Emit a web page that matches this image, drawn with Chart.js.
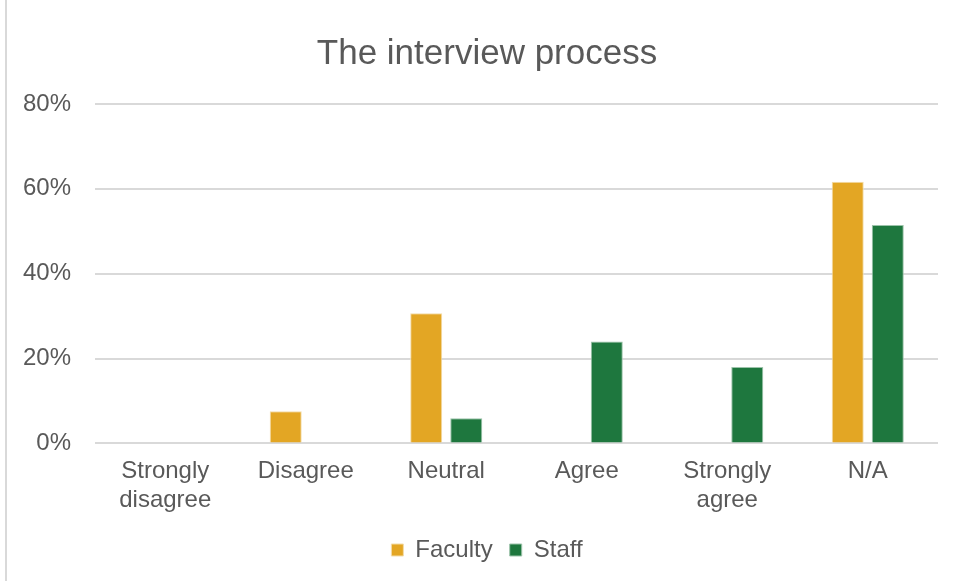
<!DOCTYPE html>
<html>
<head>
<meta charset="utf-8">
<script src="https://cdn.jsdelivr.net/npm/chart.js@4/dist/chart.umd.min.js"></script>
<style>
  html, body { margin: 0; padding: 0; background: #fff; overflow: hidden; }
  #wrap { position: absolute; left: 5px; top: 0; width: 962px; height: 581px; border-left: 2px solid #d9d9d9; box-sizing: border-box; }
  canvas { display: block; }
</style>
</head>
<body>
<div id="wrap"><canvas id="canvas"></canvas></div>
<script>
// chart data
var categories = [['Strongly', 'disagree'], 'Disagree', 'Neutral', 'Agree', ['Strongly', 'agree'], 'N/A'];
var faculty = [0, 0.076, 0.307, 0, 0, 0.617];
var staff = [0, 0, 0.059, 0.24, 0.18, 0.515];
var yTicks = [0, 0.2, 0.4, 0.6, 0.8];

var grey = '#595959';
Chart.defaults.font.family = "'Liberation Sans', Arial, sans-serif";
Chart.defaults.color = grey;

window.onload = function () {
   var ctx = document.getElementById('canvas').getContext('2d');
   window.myBar = new Chart(ctx, {
      type: 'bar',
      data: {
         labels: categories,
         datasets: [{
            label: 'Faculty',
            data: faculty,
            backgroundColor: '#E3A624',
            borderColor: '#f3dca8',
            borderWidth: 1
         }, {
            label: 'Staff',
            data: staff,
            backgroundColor: '#1E773E',
            borderColor: '#9cc3aa',
            borderWidth: 1
         }]
      },
      options: {
         responsive: true,
         maintainAspectRatio: false,
         animation: false,
         categoryPercentage: 0.57,
         barPercentage: 0.8,
         layout: { padding: { left: 0, right: 0, top: 33, bottom: 9 } },
         plugins: {
            title: {
               display: true,
               text: 'The interview process',
               font: { size: 35, weight: 'normal' },
               color: grey,
               padding: { top: 0, bottom: 29 }
            },
            legend: {
               position: 'bottom',
               labels: {
                  boxWidth: 12,
                  boxHeight: 12,
                  font: { size: 24 },
                  color: grey,
                  padding: 17
               }
            },
            tooltip: { enabled: false }
         },
         scales: {
            x: {
               grid: { display: false },
               border: { display: false },
               ticks: { font: { size: 24 }, color: grey, maxRotation: 0, padding: 6 }
            },
            y: {
               min: 0,
               max: 0.8,
               afterBuildTicks: function (scale) {
                  scale.ticks = yTicks.map(function (v) { return { value: v }; });
               },
               afterFit: function (scale) { scale.width = 88; },
               grid: { color: '#d9d9d9', lineWidth: 2, drawTicks: false },
               border: { display: false },
               ticks: {
                  font: { size: 24 },
                  color: grey,
                  padding: 24,
                  callback: function (v) { return Math.round(v * 100) + '%'; }
               }
            },
            // empty right-hand spacer so the plot ends where the reference does
            spacer: {
               type: 'linear',
               position: 'right',
               min: 0,
               max: 0.8,
               afterFit: function (scale) { scale.width = 29; },
               grid: { display: false },
               border: { display: false },
               ticks: { display: false }
            }
         }
      }
   });
};
</script>
</body>
</html>
